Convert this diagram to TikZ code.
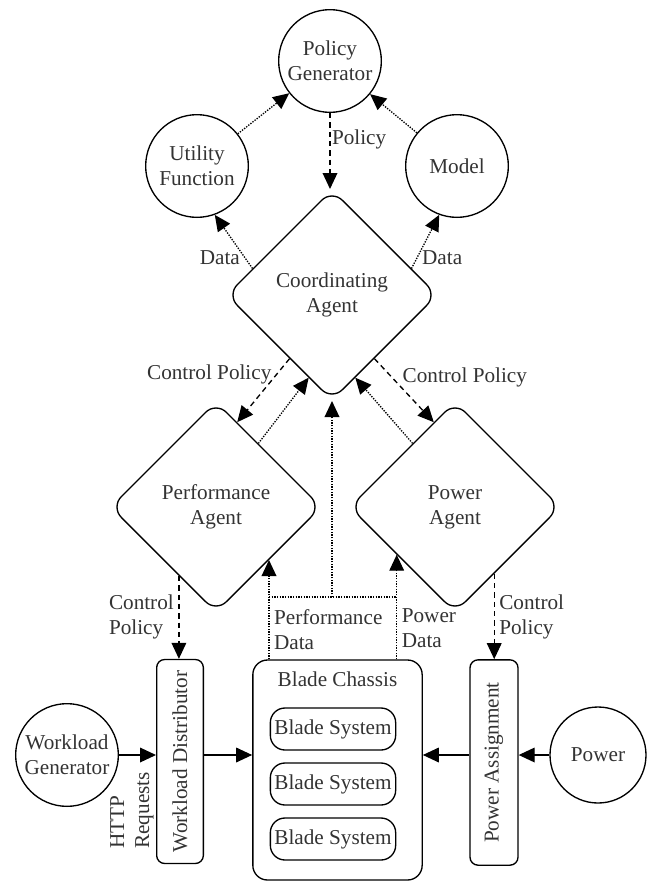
\documentclass[tikz,border=0pt]{standalone}
\usepackage{fontspec}
\setmainfont{Liberation Serif}
\usepackage{graphicx}
\usetikzlibrary{positioning}
\usetikzlibrary{shapes.geometric}
\usetikzlibrary{arrows.meta}
\usetikzlibrary{calc}
\newcommand{\figfont}{\fontsize{15.9}{18.8}\selectfont}

\begin{document}
\begin{tikzpicture}[
    x = 0.75pt, y = -0.75pt,
    every node/.style = {font = \figfont, text = black!80},
    circ/.style = {shape = circle, draw, line width = 1pt, minimum size = 77pt, inner sep = 0pt, align = center},
    agent/.style = {shape = diamond, draw, line width = 1pt, rounded corners = 11pt, minimum width = 158pt, minimum height = 158pt, aspect = 1, inner sep = 0pt, align = center},
    tall/.style = {shape = rectangle, draw, line width = 1pt, rounded corners = 6pt, minimum width = 35pt, minimum height = 153pt, inner sep = 0pt},
    blade/.style = {shape = rectangle, draw, line width = 1pt, rounded corners = 11pt, minimum width = 94pt, minimum height = 31.5pt, inner sep = 0pt},
    flow/.style = {-{Triangle[length = 12pt, width = 11pt]}, line width = 1pt},
    ctrl/.style = {flow, dash pattern = on 4pt off 3pt},
    info/.style = {flow, densely dotted},
    ]
    \useasboundingbox (0, 0) rectangle (648, 882);

    \node[circ] (PG) at (330, 61) {Policy\\Generator};
    \node[circ] (UF) at (197, 166) {Utility\\Function};
    \node[circ] (M) at (457, 166) {Model};
    \node[agent] (CA) at (332, 295) {Coordinating\\Agent};
    \node[agent] (PA) at (216, 507) {Performance\\Agent};
    \node[agent] (PW) at (455, 507) {Power\\Agent};
    \node[circ] (WG) at (67, 755) {Workload\\Generator};
    \node[tall] (WD) at (180, 761.5) {\rotatebox{90}{Workload Distributor}};
    \node[tall, minimum width = 36pt, minimum height = 154pt] (PS) at (494, 762.5) {\rotatebox{90}{Power Assignment}};
    \node[circ, minimum size = 72pt] (P) at (598, 755) {Power};
    \node[shape = rectangle, draw, line width = 1pt, rounded corners = 11pt, minimum width = 127pt, minimum height = 165pt] (BC) at (337.5, 770) {};
    \node[below = 6pt of BC.north] (BCT) {Blade Chassis};
    \node[blade] (B1) at (333, 729) {Blade System};
    \node[blade] (B2) at (333, 784) {Blade System};
    \node[blade] (B3) at (333, 839) {Blade System};
    \node[rotate = 90, anchor = north west, align = left, inner sep = 0pt] (HR) at (110, 849) {HTTP\\Requests};

    \coordinate (CL) at ($(PA.west)!0.65!(PA.south)$);
    \coordinate (CR) at ($(PW.east)!0.63!(PW.south)$);
    \coordinate (DL) at ($(PA.east)!0.5!(PA.south)$);
    \coordinate (DR) at ($(PW.west)!0.45!(PW.south)$);
    \coordinate (DJ) at (332, 597);

    \path[info] (UF) edge (PG);
    \path[info] (M) edge (PG);
    \draw[ctrl] (PG.south) -- node[right, pos = 0.35, inner sep = 1pt] (LP) {Policy} (PG.south |- CA.north);
    \draw[info] ($(CA.north)!0.75!(CA.west)$) -- node[left, pos = 0.2] (LD1) {Data} (UF.-70);
    \draw[info] ($(CA.north)!0.75!(CA.east)$) -- node[right, pos = 0.2] (LD2) {Data} (M.-110);

    \draw[ctrl] ($(CA.west)!0.6!(CA.south)$) -- node[left, pos = 0.25] (LC1) {Control Policy} ($(PA.north)!0.2!(PA.east)$);
    \draw[info] ($(PA.north)!0.4!(PA.east)$) -- ($(CA.west)!0.78!(CA.south)$);
    \draw[ctrl] ($(CA.east)!0.6!(CA.south)$) -- node[right, pos = 0.3, xshift = 4pt] (LC2) {Control Policy} ($(PW.north)!0.2!(PW.west)$);
    \draw[info] ($(PW.north)!0.4!(PW.west)$) -- ($(CA.east)!0.78!(CA.south)$);

    \draw[ctrl] (CL) -- node[left, align = left] (LC3) {Control\\Policy} (CL |- WD.north);
    \draw[ctrl] (CR) -- node[right, align = left] (LC4) {Control\\Policy} (CR |- PS.north);

    \draw[info] (BC.north -| DL) -- node[right, align = left, pos = 0.3] (LPD) {Performance\\Data} (DL);
    \draw[info] (BC.north -| DR) -- node[right, align = left, pos = 0.3] (LPW) {Power\\Data} (DR);
    \draw[densely dotted, line width = 1pt] (DJ -| DL) -- (DJ -| DR);
    \draw[info] (DJ) -- (CA.south);

    \draw[flow] (WG) -- (WG -| WD.west);
    \draw[flow] (WD.east |- WG) -- (BC.west |- WG);
    \draw[flow] (PS.west |- P) -- (BC.east |- P);
    \draw[flow] (P) -- (P -| PS.east);
\end{tikzpicture}
\end{document}
